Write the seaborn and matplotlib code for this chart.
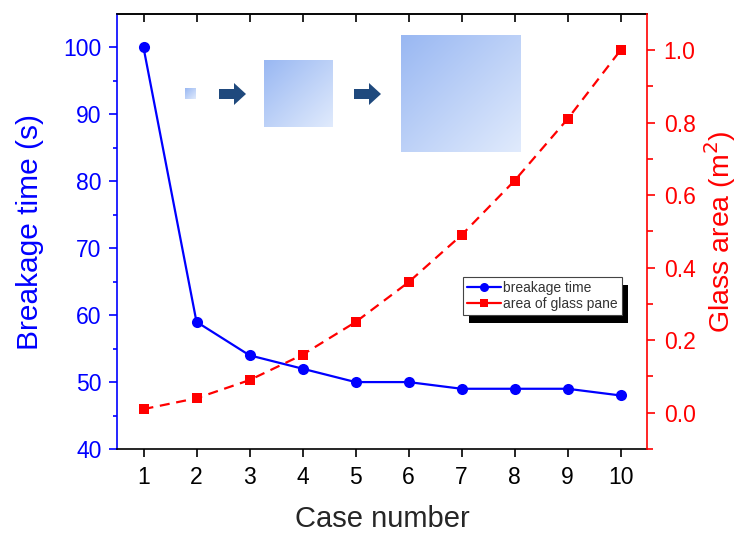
import numpy as np
import matplotlib
matplotlib.use("Agg")
import matplotlib.pyplot as plt
import seaborn as sns
from matplotlib.patches import Rectangle, FancyArrow
from matplotlib.transforms import IdentityTransform
from matplotlib.lines import Line2D

case_number = [1, 2, 3, 4, 5, 6, 7, 8, 9, 10]
breakage_time = [100, 59, 54, 52, 50, 50, 49, 49, 49, 48]
glass_area = [0.01, 0.04, 0.09, 0.16, 0.25, 0.36, 0.49, 0.64, 0.81, 1.0]

sns.set_style("ticks")
plt.rcParams['font.family'] = ['Liberation Sans', 'DejaVu Sans']

W, H = 743, 535
fig = plt.figure(figsize=(W / 100, H / 100), dpi=100)
ax = fig.add_axes([117 / W, 1 - 449 / H, 530 / W, 435 / H])
ax2 = ax.twinx()

blue, red = '#0000ff', '#ff0000'
sns.lineplot(x=case_number, y=breakage_time, ax=ax, color=blue, lw=1.6,
             marker='o', markersize=8, markeredgewidth=0, zorder=3)
sns.lineplot(x=case_number, y=glass_area, ax=ax2, color=red, lw=1.6,
             marker='s', markersize=7, markeredgewidth=0, zorder=3)
ax2.lines[0].set_dashes((4.5, 3))

ax.set_xlim(0.5, 10.5)
ax.set_ylim(40, 105)
ax2.set_ylim(-0.1, 1.1)
ax.set_xticks(case_number)
ax.set_yticks(range(40, 101, 10))
ax.set_yticks(range(45, 101, 10), minor=True)
ax2.set_yticks(np.arange(0, 1.01, 0.2))
ax2.set_yticks(np.arange(-0.1, 1.01, 0.2), minor=True)
ax2.set_yticklabels([f"{v:.1f}" for v in np.arange(0, 1.01, 0.2)])

for s in ['top', 'bottom']:
    ax.spines[s].set_color('black')
    ax.spines[s].set_linewidth(1.2)
ax.spines['left'].set_color(blue)
ax.spines['left'].set_linewidth(1.2)
ax.spines['right'].set_visible(False)
ax2.spines['left'].set_visible(False)
ax2.spines['top'].set_visible(False)
ax2.spines['bottom'].set_visible(False)
ax2.spines['right'].set_color(red)
ax2.spines['right'].set_linewidth(1.2)

ax.tick_params(axis='x', direction='out', length=6, width=1.2, labelsize=16.5, pad=6, colors='black')
ax.tick_params(axis='y', which='major', direction='out', length=6, width=1.2, labelsize=16.5,
               pad=5, colors=blue)
ax.tick_params(axis='y', which='minor', direction='out', length=3, width=1.2, colors=blue)
ax2.tick_params(axis='y', which='major', direction='out', length=6, width=1.2, labelsize=16.5,
                pad=6, colors=red)
ax2.tick_params(axis='y', which='minor', direction='out', length=4, width=1.2, colors=red)

sec = ax.secondary_xaxis('top')
sec.set_xticks(case_number)
sec.tick_params(direction='in', length=6, width=1.2, labeltop=False, colors='black')
sec.spines['top'].set_linewidth(1.2)

ax.set_xlabel('Case number', fontsize=21, labelpad=12)
ax.set_ylabel('Breakage time (s)', fontsize=21.5, color=blue, labelpad=14)
ax2.set_ylabel('Glass area (m$^2$)', fontsize=20.5, color=red, labelpad=5)

handles = [
    Line2D([], [], color=blue, lw=1.6, marker='o', markersize=6.5, markeredgewidth=0),
    Line2D([], [], color=red, lw=1.6, marker='s', markersize=6, markeredgewidth=0),
]
leg = ax2.legend(handles, ['breakage time', 'area of glass pane'], loc='upper left',
                 bbox_to_anchor=(463 / W, 1 - 277 / H), bbox_transform=fig.transFigure,
                 fontsize=10, frameon=True, fancybox=False, framealpha=1, edgecolor='#444444',
                 handlelength=2.4, handletextpad=0.2, borderpad=0.3, labelspacing=0.15,
                 borderaxespad=0, labelcolor='#333333')
leg.get_frame().set_linewidth(0.8)
leg.set_zorder(10)

fig.canvas.draw()
bb = leg.get_window_extent()
shadow = Rectangle((bb.x0 + 6, bb.y0 - 8), bb.width, bb.height, transform=IdentityTransform(),
                   facecolor='black', edgecolor='none', zorder=9)
ax2.add_patch(shadow)

# gradient squares and arrows (decoration)
over = fig.add_axes([0, 0, 1, 1], zorder=5)
over.axis('off')
over.patch.set_alpha(0)

gx, gy = np.meshgrid(np.linspace(0, 1, 100), np.linspace(0, 1, 100))
t = (gx + gy) / 2
c0 = np.array([0.60, 0.72, 0.95])
c1 = np.array([0.88, 0.92, 0.99])
grad = c0[None, None, :] * (1 - t[..., None]) + c1[None, None, :] * t[..., None]

squares = [(185, 88, 196, 99), (264, 60, 333, 127), (401, 35, 521, 152)]
for x0, y0, x1, y1 in squares:
    over.imshow(grad, extent=(x0, x1, y1, y0), aspect='auto', interpolation='bilinear')

for xa in [219, 354]:
    over.add_patch(FancyArrow(xa, 94, 27, 0, width=10, head_width=22, head_length=12,
                              length_includes_head=True, color='#1f497d', lw=0))

over.set_xlim(0, W)
over.set_ylim(H, 0)

fig.savefig('out.png', dpi=100)
